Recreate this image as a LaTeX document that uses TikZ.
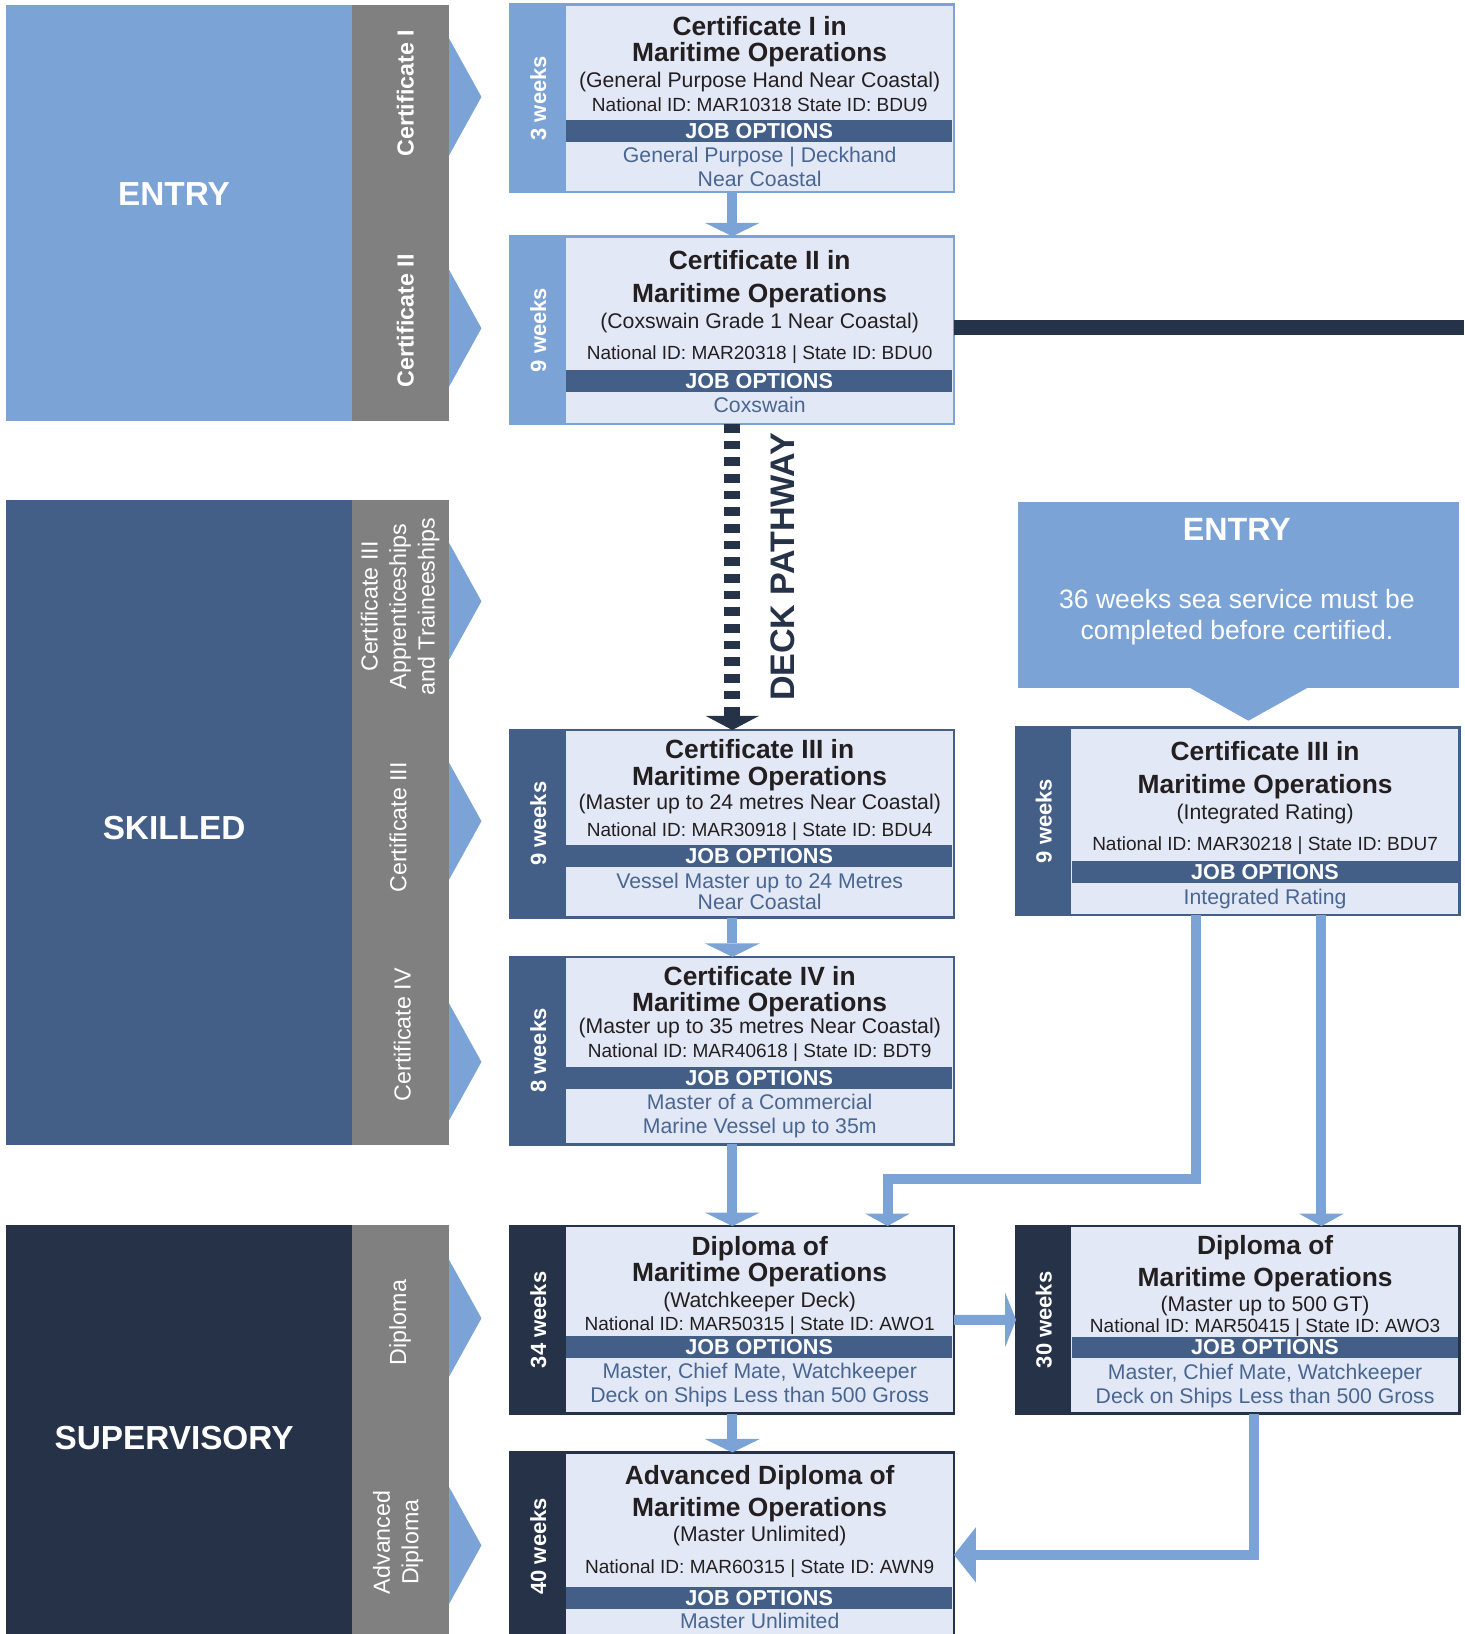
\documentclass[tikz,border=0pt]{standalone}
\usepackage{fontspec}
\setmainfont{Liberation Sans}
\usepackage{xcolor}
\usepackage{tikz}
\usetikzlibrary{arrows.meta}
\pgfdeclarelayer{nodelayer}
\pgfdeclarelayer{edgelayer}
\pgfsetlayers{main,nodelayer,edgelayer}
\definecolor{entryblue}{RGB}{124,163,213}
\definecolor{skillnavy}{RGB}{67,95,136}
\definecolor{supnavy}{RGB}{38,50,72}
\definecolor{stripgrey}{RGB}{128,128,128}
\definecolor{boxfill}{RGB}{227,232,246}
\definecolor{inktext}{RGB}{35,31,32}
\definecolor{jobblue}{RGB}{72,102,145}
\tikzstyle{level band}=[inner sep=0pt, outer sep=0pt, minimum width=6.63cm]
\tikzstyle{grey strip}=[fill=stripgrey, inner sep=0pt, outer sep=0pt, minimum width=1.87cm]
\tikzstyle{band text}=[text=white, inner sep=0pt, font=\fontsize{18.2}{20}\selectfont\bfseries]
\tikzstyle{side text}=[text=white, inner sep=0pt, rotate=90, align=center, font=\fontsize{12.7}{15.6}\selectfont]
\tikzstyle{cert box}=[fill=boxfill, line width=0.05cm, inner sep=0pt, outer sep=0pt, minimum width=8.51cm, minimum height=3.6cm]
\tikzstyle{week strip}=[anchor=north west, inner sep=0pt, outer sep=0pt, minimum width=1.06cm, minimum height=3.6cm]
\tikzstyle{week text}=[text=white, inner sep=0pt, rotate=90, font=\fontsize{12}{14}\selectfont\bfseries]
\tikzstyle{box title}=[text=inktext, inner sep=0pt, text height=10pt, text depth=0pt, font=\fontsize{14.4}{16}\selectfont\bfseries]
\tikzstyle{box sub}=[text=inktext, inner sep=0pt, text height=8.1pt, text depth=0pt, font=\fontsize{11.6}{13}\selectfont]
\tikzstyle{box id}=[text=inktext, inner sep=0pt, text height=7.3pt, text depth=0pt, font=\fontsize{10.4}{12}\selectfont]
\tikzstyle{job bar}=[fill=skillnavy, text=white, inner sep=0pt, minimum width=7.42cm, minimum height=0.42cm, font=\fontsize{11.8}{13}\selectfont\bfseries]
\tikzstyle{job text}=[text=jobblue, inner sep=0pt, text height=8.1pt, text depth=0pt, font=\fontsize{11.6}{13}\selectfont]
\tikzstyle{entry note}=[text=white, inner sep=0pt, align=center, font=\fontsize{14.5}{17.2}\selectfont]
\tikzstyle{flow}=[draw=entryblue, line width=0.192cm]
\tikzstyle{main flow}=[flow, -{Triangle[width=1.06cm, length=0.26cm, line width=0pt]}]
\tikzstyle{side flow}=[flow, -{Triangle[width=0.86cm, length=0.24cm, line width=0pt]}]
\tikzstyle{cross flow}=[flow, -{Triangle[width=1.04cm, length=0.21cm, line width=0pt]}]
\tikzstyle{back flow}=[flow, -{Triangle[width=1.06cm, length=0.42cm, line width=0pt]}]
\tikzstyle{deck flow}=[draw=supnavy, line width=0.31cm, dash pattern=on 0.166cm off 0.154cm, -{Triangle[width=1.02cm, length=0.27cm, line width=0pt]}]
\tikzstyle{dark rule}=[draw=supnavy, line width=0.28cm]

\begin{document}
\begin{tikzpicture}[x=0.02cm, y=-0.02cm]
    \useasboundingbox (0,0) rectangle (1405,1568);
    \node[level band, fill=entryblue, minimum height=7.98cm] (entryband) at (171.75,204.25) {};
    \node[grey strip, minimum height=7.98cm] (entrygrey) at (384.25,204.25) {};
    \node[level band, fill=skillnavy, minimum height=12.38cm] (skillband) at (171.75,789.5) {};
    \node[grey strip, minimum height=12.38cm] (skillgrey) at (384.25,789.5) {};
    \node[level band, fill=supnavy, minimum height=8cm] (supband) at (171.75,1375) {};
    \node[grey strip, minimum height=8cm] (supgrey) at (384.25,1375) {};
    \fill[entryblue] (431,37) -- (462,93) -- (431,149) -- cycle;
    \fill[entryblue] (431,259) -- (462,315) -- (431,371) -- cycle;
    \fill[entryblue] (431,521) -- (462,577) -- (431,633) -- cycle;
    \fill[entryblue] (431,732) -- (462,788) -- (431,844) -- cycle;
    \fill[entryblue] (431,963) -- (462,1019) -- (431,1075) -- cycle;
    \fill[entryblue] (431,1209) -- (462,1265) -- (431,1321) -- cycle;
    \fill[entryblue] (431,1427) -- (462,1483) -- (431,1539) -- cycle;
    \node[band text] (entrylabel) at (167,186) {ENTRY};
    \node[band text] (skilllabel) at (167,795) {SKILLED};
    \node[band text] (suplabel) at (167,1380) {SUPERVISORY};
    \node[side text, font=\fontsize{12.7}{15.6}\selectfont\bfseries] (cert1label) at (389,89.6) {Certificate I};
    \node[side text, font=\fontsize{12.7}{15.6}\selectfont\bfseries] (cert2label) at (389,308) {Certificate II};
    \node[side text] (apprlabel) at (384,582) {Certificate III\\Apprenticeships\\and Traineeships};
    \node[side text] (cert3label) at (382,794) {Certificate III};
    \node[side text] (cert4label) at (386,993) {Certificate IV};
    \node[side text] (dipllabel) at (384,1269) {Diploma};
    \node[side text] (advlabel) at (382,1480) {Advanced\\Diploma};

    \begin{pgfonlayer}{nodelayer}
        \node[cert box, draw=entryblue] (b1) at (702.75,94.25) {};
        \node[week strip, fill=entryblue] (b1s) at (b1.north west) {};
        \node[week text] (b1w) at (b1s) {3 weeks};
        \node[job bar] (b1j) at (728.5,125.5) {JOB OPTIONS};
        \node[box title] (b1t1) at (729,25) {Certificate I in};
        \node[box title] (b1t2) at (729,50.5) {Maritime Operations};
        \node[box sub] (b1sub) at (729,76.8) {(General Purpose Hand Near Coastal)};
        \node[box id] (b1id) at (729,100.8) {National ID: MAR10318 State ID: BDU9};
        \node[job text] (b1o1) at (729,148.8) {General Purpose | Deckhand};
        \node[job text] (b1o2) at (729,171.8) {Near Coastal};

        \node[cert box, draw=entryblue] (b2) at (702.75,316.75) {};
        \node[week strip, fill=entryblue] (b2s) at (b2.north west) {};
        \node[week text] (b2w) at (b2s) {9 weeks};
        \node[job bar] (b2j) at (728.5,365.5) {JOB OPTIONS};
        \node[box title] (b2t1) at (729,250) {Certificate II in};
        \node[box title] (b2t2) at (729,281.5) {Maritime Operations};
        \node[box sub] (b2sub) at (729,307.8) {(Coxswain Grade 1 Near Coastal)};
        \node[box id] (b2id) at (729,338.5) {National ID: MAR20318 | State ID: BDU0};
        \node[job text] (b2o1) at (729,388.7) {Coxswain};

        \node[cert box, draw=skillnavy] (b3) at (702.75,790.5) {};
        \node[week strip, fill=skillnavy] (b3s) at (b3.north west) {};
        \node[week text] (b3w) at (b3s) {9 weeks};
        \node[job bar] (b3j) at (728.5,821.5) {JOB OPTIONS};
        \node[box title] (b3t1) at (729,719.2) {Certificate III in};
        \node[box title] (b3t2) at (729,744.8) {Maritime Operations};
        \node[box sub] (b3sub) at (729,769.4) {(Master up to 24 metres Near Coastal)};
        \node[box id] (b3id) at (729,796) {National ID: MAR30918 | State ID: BDU4};
        \node[job text] (b3o1) at (729,845.2) {Vessel Master up to 24 Metres};
        \node[job text] (b3o2) at (729,865.4) {Near Coastal};

        \node[cert box, draw=skillnavy] (b4) at (702.75,1008.2) {};
        \node[week strip, fill=skillnavy] (b4s) at (b4.north west) {};
        \node[week text] (b4w) at (b4s) {8 weeks};
        \node[job bar] (b4j) at (728.5,1034.4) {JOB OPTIONS};
        \node[box title] (b4t1) at (729,937.3) {Certificate IV in};
        \node[box title] (b4t2) at (729,962.3) {Maritime Operations};
        \node[box sub] (b4sub) at (729,984.6) {(Master up to 35 metres Near Coastal)};
        \node[box id] (b4id) at (729,1008.3) {National ID: MAR40618 | State ID: BDT9};
        \node[job text] (b4o1) at (729,1057.3) {Master of a Commercial};
        \node[job text] (b4o2) at (729,1080.6) {Marine Vessel up to 35m};

        \node[cert box, draw=supnavy] (b5) at (702.75,1266.5) {};
        \node[week strip, fill=supnavy] (b5s) at (b5.north west) {};
        \node[week text] (b5w) at (b5s) {34 weeks};
        \node[job bar] (b5j) at (728.5,1292.75) {JOB OPTIONS};
        \node[box title] (b5t1) at (729,1195.8) {Diploma of};
        \node[box title] (b5t2) at (729,1221.1) {Maritime Operations};
        \node[box sub] (b5sub) at (729,1247.6) {(Watchkeeper Deck)};
        \node[box id] (b5id) at (729,1270.7) {National ID: MAR50315 | State ID: AWO1};
        \node[job text] (b5o1) at (729,1315.8) {Master, Chief Mate, Watchkeeper};
        \node[job text] (b5o2) at (729,1338.8) {Deck on Ships Less than 500 Gross};

        \node[cert box, draw=supnavy] (b6) at (702.75,1483.8) {};
        \node[week strip, fill=supnavy] (b6s) at (b6.north west) {};
        \node[week text] (b6w) at (b6s) {40 weeks};
        \node[job bar] (b6j) at (728.5,1533.5) {JOB OPTIONS};
        \node[box title] (b6t1) at (729,1415.6) {Advanced Diploma of};
        \node[box title] (b6t2) at (729,1446) {Maritime Operations};
        \node[box sub] (b6sub) at (729,1472) {(Master Unlimited)};
        \node[box id] (b6id) at (729,1503.6) {National ID: MAR60315 | State ID: AWN9};
        \node[job text] (b6o1) at (729,1556) {Master Unlimited};

        \node[level band, fill=entryblue, minimum width=8.46cm, minimum height=3.56cm] (entry2) at (1188.5,571) {};
        \node[band text, font=\fontsize{17.6}{20}\selectfont\bfseries] (entry2t) at (1187,508) {ENTRY};
        \node[entry note] (entry2n) at (1187,592) {36 weeks sea service must be\\completed before certified.};
        \fill[entryblue] (1140,659) -- (1198,691.6) -- (1256.5,659) -- cycle;

        \node[cert box, draw=skillnavy] (r3) at (1187.75,787.9) {};
        \node[week strip, fill=skillnavy] (r3s) at (r3.north west) {};
        \node[week text] (r3w) at (r3s) {9 weeks};
        \node[job bar] (r3j) at (1213.9,837) {JOB OPTIONS};
        \node[box title] (r3t1) at (1214,721.4) {Certificate III in};
        \node[box title] (r3t2) at (1214,752.4) {Maritime Operations};
        \node[box sub] (r3sub) at (1214,779) {(Integrated Rating)};
        \node[box id] (r3id) at (1214,809.4) {National ID: MAR30218 | State ID: BDU7};
        \node[job text] (r3o1) at (1214,860.6) {Integrated Rating};

        \node[cert box, draw=supnavy] (r5) at (1187.75,1266.6) {};
        \node[week strip, fill=supnavy] (r5s) at (r5.north west) {};
        \node[week text] (r5w) at (r5s) {30 weeks};
        \node[job bar] (r5j) at (1213.9,1293) {JOB OPTIONS};
        \node[box title] (r5t1) at (1214,1195.5) {Diploma of};
        \node[box title] (r5t2) at (1214,1226.2) {Maritime Operations};
        \node[box sub] (r5sub) at (1214,1251.5) {(Master up to 500 GT)};
        \node[box id] (r5id) at (1214,1272.3) {National ID: MAR50415 | State ID: AWO3};
        \node[job text] (r5o1) at (1214,1316.5) {Master, Chief Mate, Watchkeeper};
        \node[job text] (r5o2) at (1214,1339.5) {Deck on Ships Less than 500 Gross};

        \node[text=supnavy, inner sep=0pt, rotate=90, font=\fontsize{18.6}{20}\selectfont\bfseries] (deck) at (751,544) {DECK PATHWAY};
    \end{pgfonlayer}

    \begin{pgfonlayer}{edgelayer}
        \coordinate (rim) at (1405,314);
        \coordinate (bend1) at (1148,1131);
        \coordinate (bend2) at (851.7,1131);
        \coordinate (drop) at (1268,1000);
        \coordinate (bend3) at (1203.5,1492);
        \draw[style=dark rule] (b2.east |- rim) -- (rim);
        \draw[style=deck flow] (b2) to (b3);
        \draw[style=main flow] (b1) to (b2);
        \draw[style=main flow] (b3) to (b4);
        \draw[style=main flow] (b4) to (b5);
        \draw[style=main flow] (b5) to (b6);
        \draw[style=cross flow] (b5) to (r5);
        \draw[style=side flow] (r3.south -| bend1) |- (bend2) -- (bend2 |- b5.north);
        \draw[style=side flow] (r3.south -| drop) -- (r5.north -| drop);
        \draw[style=back flow] (r5.south -| bend3) |- (b6.east |- bend3);
    \end{pgfonlayer}
\end{tikzpicture}
\end{document}
